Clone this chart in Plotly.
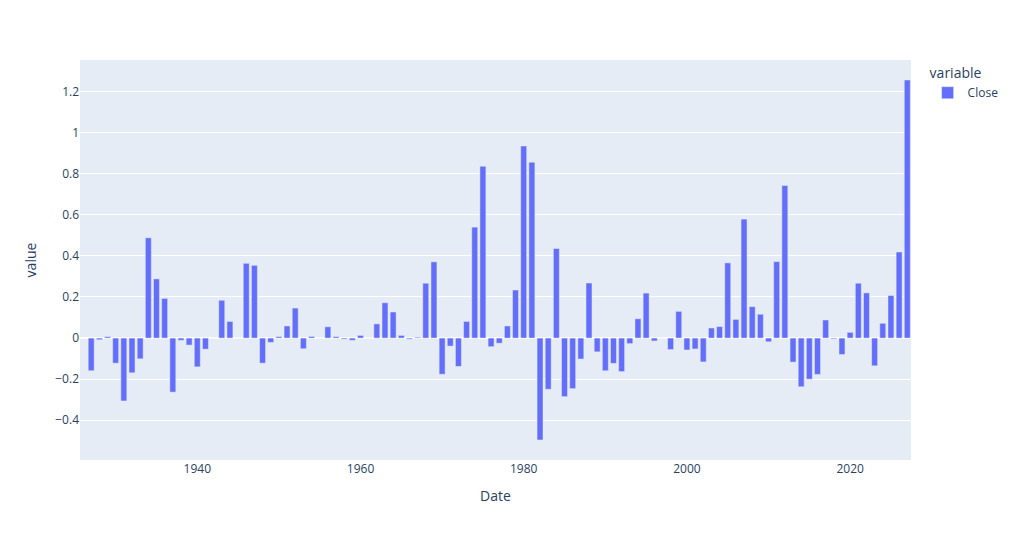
import pandas as pd
import plotly.express as px

# Yearly values (label dates are year-ends); first point has no value
dates = ["1926-01-31"] + [f"{y}-12-31" for y in range(1926, 2027)]

close = [
    None,
    -0.159, -0.008, 0.007, -0.122, -0.306, -0.169, -0.101, 0.488, 0.288, 0.193,   # 1926-1935
    -0.263, -0.011, -0.034, -0.140, -0.054, 0.0, 0.184, 0.081, 0.0, 0.364,        # 1936-1945
    0.354, -0.122, -0.021, 0.007, 0.059, 0.146, -0.052, 0.008, 0.0, 0.055,        # 1946-1955
    0.007, -0.005, -0.011, 0.013, 0.0, 0.069, 0.172, 0.127, 0.013, -0.005,        # 1956-1965
    0.004, 0.267, 0.371, -0.176, -0.039, -0.138, 0.081, 0.540, 0.836, -0.042,     # 1966-1975
    -0.025, 0.059, 0.234, 0.935, 0.856, -0.496, -0.249, 0.436, -0.285, -0.246,    # 1976-1985
    -0.102, 0.268, -0.067, -0.159, -0.123, -0.163, -0.027, 0.094, 0.219, -0.014,  # 1986-1995
    0.0, -0.056, 0.130, -0.058, -0.053, -0.116, 0.049, 0.056, 0.366, 0.091,       # 1996-2005
    0.579, 0.153, 0.116, -0.018, 0.372, 0.743, -0.117, -0.237, -0.200, -0.177,    # 2006-2015
    0.088, -0.004, -0.080, 0.028, 0.267, 0.220, -0.135, 0.072, 0.207, 0.419,      # 2016-2025
    1.256,                                                                         # 2026
]

df = pd.DataFrame({
    "Date": pd.to_datetime(dates),
    "variable": "Close",
    "value": close,
})

fig = px.bar(df, x="Date", y="value", color="variable")
fig.update_layout(width=1016, height=540)
fig.write_html(
    "out.html",
    config={"displayModeBar": False},
    post_script="document.body.style.margin='0';",
)
